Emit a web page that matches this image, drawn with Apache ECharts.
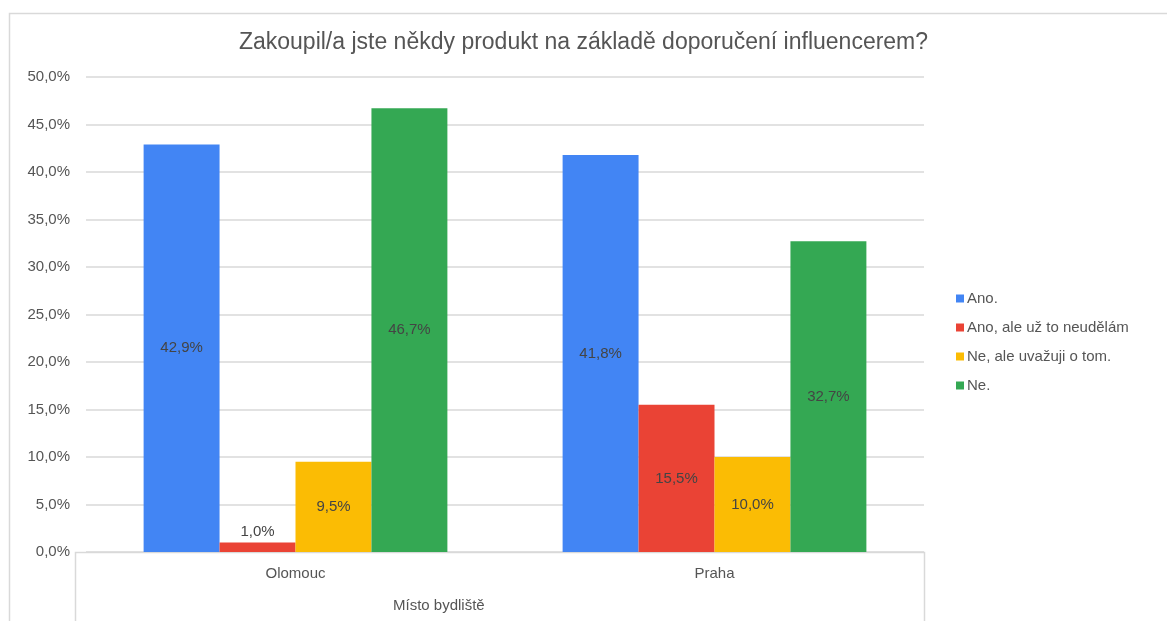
<!DOCTYPE html>
<html><head><meta charset="utf-8">
<script src="https://cdn.jsdelivr.net/npm/echarts@6/dist/echarts.min.js"></script>
<style>html,body{margin:0;padding:0;background:#fff}#c{width:1167px;height:621px}</style>
</head><body><div id="c"></div>
<script>
const title = 'Zakoupil/a jste někdy produkt na základě doporučení influencerem?';
const categories = ['Olomouc', 'Praha'];
const seriesNames = ['Ano.', 'Ano, ale už to neudělám', 'Ne, ale uvažuji o tom.', 'Ne.'];
const ano = [42.9, 41.8];
const anoAleNe = [1.0, 15.5];
const neUvazuji = [9.5, 10.0];
const ne = [46.7, 32.7];
const colors = ['#4285F4', '#EA4335', '#FBBC04', '#34A853'];
const xAxisTitle = 'Místo bydliště';

const fmt = v => v.toFixed(1).replace('.', ',') + '%';
const font = 'Liberation Sans, Arial, sans-serif';
const allValues = [ano, anoAleNe, neUvazuji, ne];

const chart = echarts.init(document.getElementById('c'));
chart.setOption({
  animation: false,
  textStyle: { fontFamily: font },
  title: {
    text: title, left: 'center', top: 26,
    textStyle: { fontFamily: font, fontSize: 23, fontWeight: 'normal', color: '#555' }
  },
  legend: {
    orient: 'vertical', left: 951, top: 286,
    itemWidth: 8, itemHeight: 8, itemGap: 14, icon: 'rect',
    textStyle: { fontFamily: font, fontSize: 15, color: '#555', padding: [0, 0, 0, -2] },
    data: seriesNames
  },
  grid: { left: 86, right: 243, top: 77, bottom: 69, containLabel: false },
  xAxis: {
    type: 'category', data: categories,
    axisLine: { show: false }, axisTick: { show: false },
    axisLabel: { color: '#555', fontSize: 15, margin: 14, fontFamily: font }
  },
  yAxis: {
    type: 'value', min: 0, max: 50, interval: 5,
    axisLine: { show: false }, axisTick: { show: false },
    axisLabel: { color: '#555', fontSize: 15, margin: 16, formatter: fmt, fontFamily: font },
    splitLine: { lineStyle: { color: '#d9d9d9', width: 1.5 } }
  },
  graphic: [
    { type: 'rect', silent: true, shape: { x: 9.5, y: 13.5, width: 1200, height: 700 },
      style: { fill: 'none', stroke: '#d9d9d9', lineWidth: 1.5 } },
    { type: 'polyline', silent: true, shape: { points: [[75.5, 640], [75.5, 552.5], [924.5, 552.5], [924.5, 640]] },
      style: { fill: 'none', stroke: '#d9d9d9', lineWidth: 1.5 } },
    { type: 'text', left: 393, top: 598, silent: true,
      style: { text: xAxisTitle, fill: '#555', fontSize: 15, fontFamily: font } }
  ],
  series: seriesNames.map((name, i) => ({
    name, type: 'bar', barGap: 0, barCategoryGap: '27.5%',
    itemStyle: { color: colors[i] },
    label: { show: true, position: 'inside', color: '#444', fontSize: 15, fontFamily: font,
      formatter: p => fmt(p.value) },
    data: allValues[i].map(v => v < 3 ? { value: v, label: { position: 'top', distance: 3 } } : v)
  }))
});
</script></body></html>
